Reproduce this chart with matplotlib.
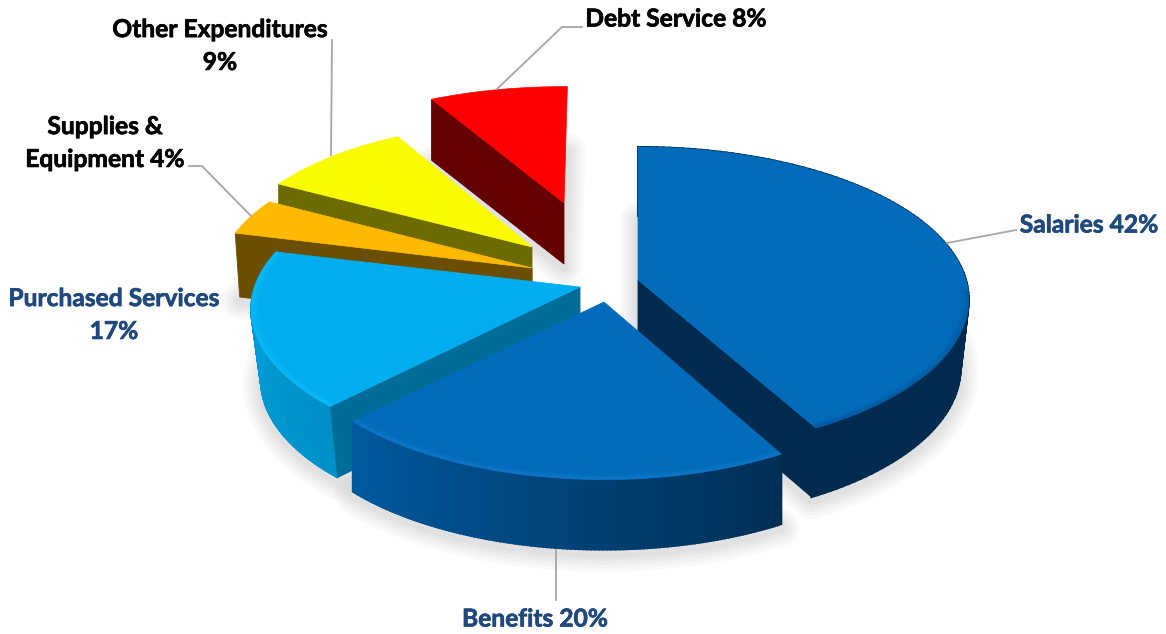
import numpy as np
import matplotlib
matplotlib.use('Agg')
import matplotlib.pyplot as plt
import matplotlib.patheffects as pe
from matplotlib.colors import to_rgb

# data
categories = ['Salaries', 'Benefits', 'Purchased Services', 'Supplies & Equipment', 'Other Expenditures', 'Debt Service']
values = [42, 20, 17, 4, 9, 8]

label_text = ['Salaries {}%', 'Benefits {}%', 'Purchased Services\n{}%', 'Supplies &\nEquipment {}%',
              'Other Expenditures\n{}%', 'Debt Service {}%']
label_pos = [(1089, 225), (535, 619), (114, 315), (105, 143), (220, 46), (676, 19)]
label_col = ['#1F497D', '#1F497D', '#1F497D', 'black', 'black', 'black']

# per slice look of the exploded 3d pie: apex, a, b, perspective, depth, bottom shrink, visible radial face
apex = [(638, 280), (604, 302), (580, 287), (532, 268), (532, 247), (564, 203)]
semi_a = [328, 310, 325, 314, 303, 306]
semi_b = [150, 142, 146, 144, 137, 128]
persp = [0.128, 0.2, 0.15, 0.1, 0.1, 0.1]
depth = [69, 70, 71, 64, 60, 61]
shrink = [0.975, 1.0, 0.97, 0.985, 1.0, 1.0]
face = ['end', None, 'start', 'start', 'start', 'start']
rot = [0, 0.7, 0, 0, 0, 0.7]

top_col = ['#006BBB', '#006BBB', '#00AEEF', '#FFBA00', '#FBFB00', '#FF0000']
face_col = ['#002B4E', '#002B4E', '#006D99', '#6B4E00', '#6B6B00', '#650000']
rim_col = [('#002B4E', '#002B4E'), ('#002E54', '#005A9F'), ('#0090C9', '#00A2DE'), None, None, None]
# bevel colour, alpha and angle range (fraction of slice)
bevel = [('#00294A', 0.12, 0.62, 1.0), ('#2A8AE0', 0.2, 0.0, 1.0), ('#22CCFF', 0.24, 0.0, 1.0),
         None, None, None]

leaders = [[(947, 243), (1016, 230)],
           [(556, 550), (556, 600)],
           [(189, 166), (202, 166), (251, 216)],
           [(332, 40), (331, 155)],
           [(497, 89), (562, 27), (582, 27)]]

plt.rcParams['font.family'] = ['Lato', 'DejaVu Sans']

fig = plt.figure(figsize=(11.66, 6.34), dpi=100)
ax = fig.add_axes([0, 0, 1, 1])
ax.set_xlim(0, 1166)
ax.set_ylim(634, 0)
ax.axis('off')


def project(i, ang, r=1.0):
    u = r * np.sin(np.radians(ang))
    v = -r * np.cos(np.radians(ang))
    w = 1 - persp[i] * v
    return apex[i][0] + semi_a[i] * u / w, apex[i][1] + semi_b[i] * v / w


def lower(i, x, y):
    # same point on the bottom face of the slice
    return apex[i][0] + (x - apex[i][0]) * shrink[i], y + depth[i]


def mix(c0, c1, t):
    c0, c1 = np.array(to_rgb(c0)), np.array(to_rgb(c1))
    return tuple(c0 + (c1 - c0) * t)


edges = np.concatenate([[0], np.cumsum(values)]) * 360.0 / sum(values)
order = [5, 4, 3, 2, 0, 1]

# soft shadows from the bottom faces
for i in order:
    ang = np.linspace(edges[i], edges[i + 1], 60) + rot[i]
    x, y = project(i, ang)
    x, y = lower(i, x, y)
    sx = np.concatenate([[apex[i][0]], x])
    sy = np.concatenate([[apex[i][1] + depth[i]], y]) + 4
    for lw in [26, 21, 16, 11, 6]:
        ax.fill(sx, sy, facecolor='none', edgecolor='black', alpha=0.022, lw=lw, joinstyle='round', zorder=1)

z = 2
for i in order:
    ang = np.linspace(edges[i], edges[i + 1], 121) + rot[i]
    x, y = project(i, ang)
    xb, yb = lower(i, x, y)

    # rim, coloured by angle (wide edges so the quads leave no seams)
    if rim_col[i] is not None:
        for k in range(len(ang) - 1):
            t = k / (len(ang) - 2)
            c = mix(rim_col[i][0], rim_col[i][1], t)
            ax.fill([x[k], x[k + 1], xb[k + 1], xb[k]], [y[k], y[k + 1], yb[k + 1], yb[k]],
                    facecolor=c, edgecolor=c, lw=1.5, zorder=z)
        z += 1

    # radial side face
    if face[i] is not None:
        k = 0 if face[i] == 'start' else -1
        ax0, ay0 = apex[i]
        ax1, ay1 = lower(i, ax0, ay0)
        ax.fill([ax0, x[k], xb[k], ax1], [ay0, y[k], yb[k], ay1], color=face_col[i], lw=0.6, zorder=z)
        z += 1

    # top face
    ax.fill(np.concatenate([[apex[i][0]], x]), np.concatenate([[apex[i][1]], y]),
            color=top_col[i], lw=0.5, zorder=z)
    z += 1

    # bevel along the rim of the top face
    if bevel[i] is not None:
        col, alpha, f0, f1 = bevel[i]
        a0 = edges[i] + (edges[i + 1] - edges[i]) * f0 + rot[i]
        a1 = edges[i] + (edges[i + 1] - edges[i]) * f1 + rot[i]
        arc = np.linspace(a0, a1, 100)
        for r in [0.998, 0.994, 0.99, 0.986, 0.982]:
            bx, by = project(i, arc, r)
            ax.plot(bx, by, color=col, alpha=alpha, lw=1.6, solid_capstyle='butt', zorder=z)
            alpha *= 0.75
        z += 1

# leader lines
for pts in leaders:
    pts = np.array(pts)
    ax.plot(pts[:, 0], pts[:, 1], color='#A6A6A6', lw=1.3, zorder=z)

# labels, with a hairline stroke since Lato bold is lighter than the original face
for i in range(len(categories)):
    t = ax.text(label_pos[i][0], label_pos[i][1], label_text[i].format(values[i]), color=label_col[i],
                fontsize=17.7, fontweight='bold', ha='center', va='center', linespacing=1.52, zorder=z + 1)
    t.set_path_effects([pe.withStroke(linewidth=0.5, foreground=label_col[i])])

fig.savefig('out.png', dpi=100, facecolor='white')
